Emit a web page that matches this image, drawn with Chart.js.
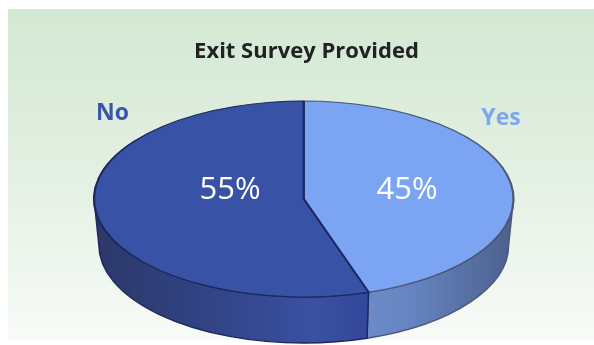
<!DOCTYPE html>
<html>
<head>
<meta charset="utf-8">
<script src="https://cdn.jsdelivr.net/npm/chart.js@4"></script>
<style>
  html, body { margin: 0; padding: 0; background: #ffffff; }
  #wrap { position: relative; width: 594px; height: 345px; overflow: hidden; }
  #panel { position: absolute; left: 8px; top: 9px; width: 586px; height: 331px;
    background: linear-gradient(to bottom, #d3e8d3 0%, #e2efe1 45%, #f8fbf8 100%); }
  #c { position: absolute; left: 0; top: 0; }
</style>
</head>
<body>
<div id="wrap">
  <div id="panel"></div>
  <canvas id="c" width="594" height="345"></canvas>
</div>
<script>
// ---- data ----
const chartTitle = 'Exit Survey Provided';
const categories = ['Yes', 'No'];
const values = [45, 55];

// ---- styles ----
const topColors = ['#7ba5f2', '#3853a5'];
const borderColors = ['#4a5875', '#1b275e'];
const labelColors = ['#7fa6ee', '#3a56a9'];

const pie3d = {
  id: 'pie3d',
  beforeDatasetsDraw(chart, args, o) {
    const ctx = chart.ctx;
    const meta = chart.getDatasetMeta(0);
    const a0 = meta.data[0];
    const r = a0.outerRadius;
    const cx = o.cx, cy = o.cy;
    const rx = r, ry = r * o.squash;
    const rxB = r * o.bottomScale, ryB = ry;
    const cyB = cy + o.depth;
    // side walls
    meta.data.forEach((arc, i) => {
      let s = arc.startAngle, e = arc.endAngle;
      const lo = Math.max(s, 0), hi = Math.min(e, Math.PI);
      if (hi <= lo) return;
      const xL = cx + rx * Math.cos(hi), xR = cx + rx * Math.cos(lo);
      const g = ctx.createLinearGradient(xL, 0, xR, 0);
      o.sideStops[i].forEach(([p, c]) => g.addColorStop(p, c));
      ctx.save();
      ctx.beginPath();
      ctx.ellipse(cx, cy, rx, ry, 0, lo, hi, false);
      ctx.lineTo(cx + rxB * Math.cos(hi), cyB + ryB * Math.sin(hi));
      ctx.ellipse(cx, cyB, rxB, ryB, 0, hi, lo, true);
      ctx.closePath();
      ctx.fillStyle = g;
      ctx.fill();
      ctx.lineWidth = 1.4;
      ctx.strokeStyle = borderColors[i];
      ctx.lineJoin = 'round';
      ctx.stroke();
      ctx.restore();
    });
    // squash the top face drawn by the library
    ctx.save();
    ctx.translate(cx, cy);
    ctx.scale(1, o.squash);
    ctx.translate(-a0.x, -a0.y);
  },
  afterDatasetsDraw(chart, args, o) {
    const ctx = chart.ctx;
    ctx.restore();
    const total = values.reduce((a, b) => a + b, 0);
    ctx.save();
    ctx.textAlign = 'center';
    ctx.textBaseline = 'middle';
    values.forEach((v, i) => {
      ctx.font = o.pctFont;
      ctx.fillStyle = '#ffffff';
      ctx.fillText(Math.round(v / total * 100) + '%', o.pctPos[i][0], o.pctPos[i][1]);
      ctx.font = o.catFont;
      ctx.fillStyle = labelColors[i];
      ctx.fillText(categories[i], o.catPos[i][0], o.catPos[i][1]);
    });
    ctx.restore();
  }
};

new Chart(document.getElementById('c'), {
  type: 'pie',
  data: {
    labels: categories,
    datasets: [{
      data: values,
      backgroundColor: topColors,
      borderColor: borderColors,
      borderWidth: 2.2,
      radius: 209.75,
      clip: false
    }]
  },
  options: {
    responsive: false,
    animation: false,
    events: [],
    layout: { padding: { left: 19, right: 0, top: 0, bottom: 0 } },
    plugins: {
      legend: { display: false },
      tooltip: { enabled: false },
      title: {
        display: true,
        text: chartTitle,
        color: '#222222',
        font: { family: 'Open Sans', size: 22, weight: 'bold' },
        padding: { top: 39, bottom: 10 }
      },
      pie3d: {
        cx: 303.75, cy: 199, squash: 98 / 209.75, depth: 46, bottomScale: 0.977,
        sideStops: [
          [[0, '#6b8ac7'], [0.3, '#6584c0'], [1, '#4c608d']],
          [[0, '#2c3867'], [0.5, '#33468c'], [0.8, '#3a51a2'], [1, '#33479a']]
        ],
        pctFont: '31px "Open Sans"',
        pctPos: [[407, 190], [230, 190]],
        catFont: 'bold 23px "Open Sans"',
        catPos: [[501, 118], [112.5, 113]]
      }
    }
  },
  plugins: [pie3d]
});
</script>
</body>
</html>
